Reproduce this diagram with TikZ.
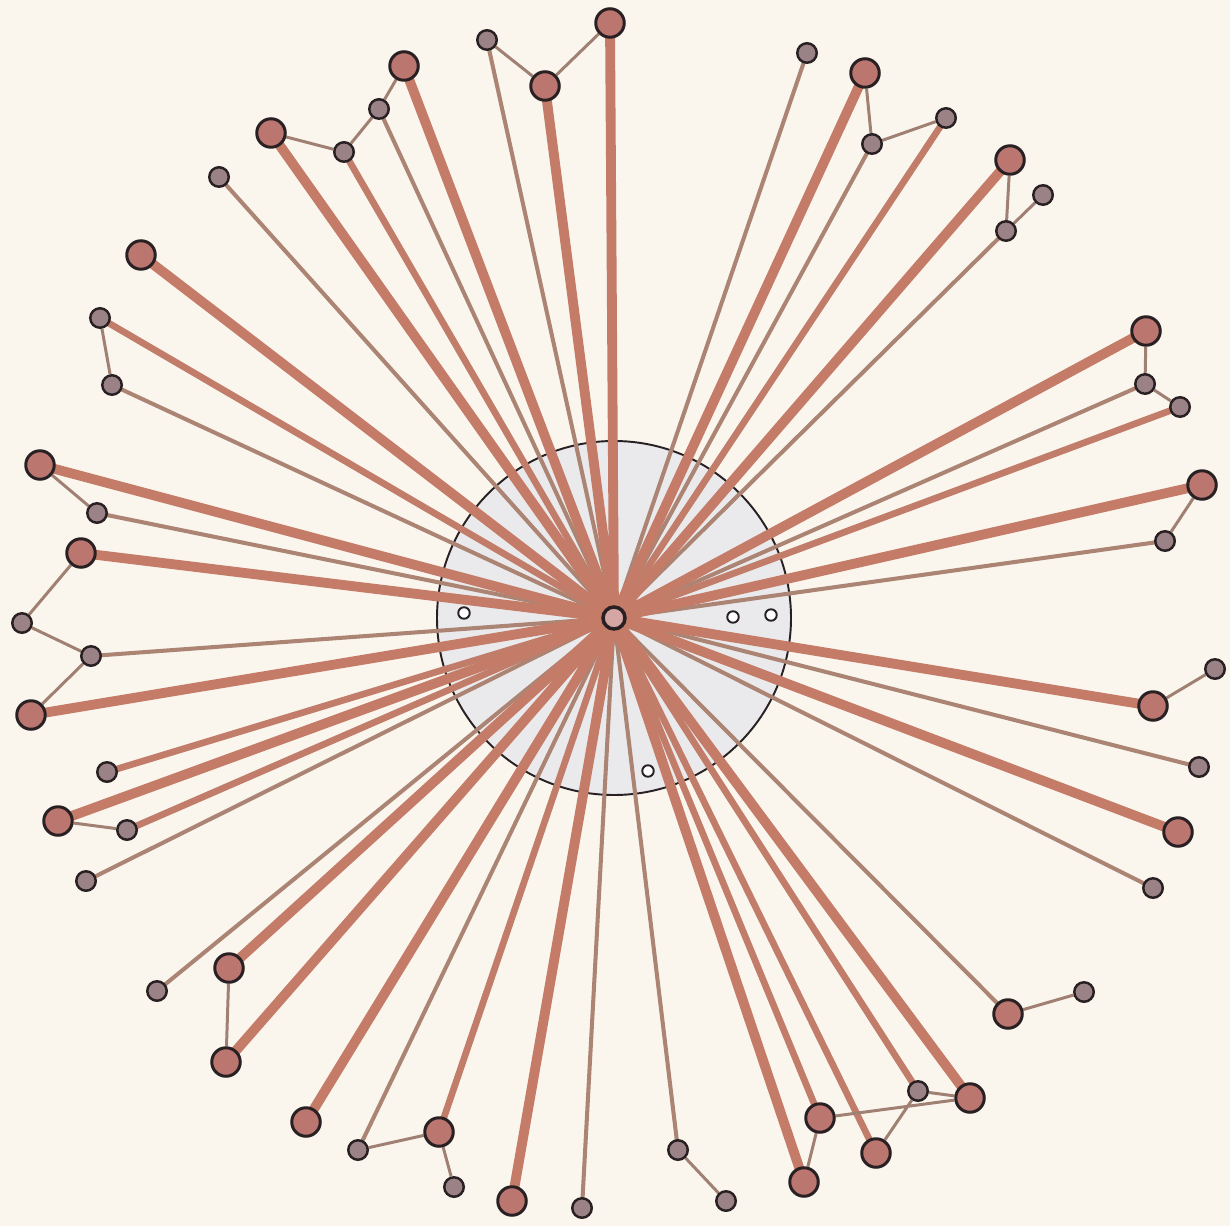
\documentclass[tikz,border=0pt]{standalone}
\usetikzlibrary{backgrounds}
\definecolor{paperBg}{RGB}{250,246,237}
\definecolor{rimDark}{RGB}{40,32,34}
\definecolor{bigFill}{RGB}{188,118,112}
\definecolor{smallFill}{RGB}{154,130,134}
\definecolor{hubFill}{RGB}{214,166,164}
\definecolor{spokeMain}{RGB}{196,124,104}
\definecolor{spokeThin}{RGB}{172,132,116}
\definecolor{linkCol}{RGB}{160,128,114}
\definecolor{diskFill}{RGB}{234,234,236}
\begin{document}
\begin{tikzpicture}[x=0.02cm,y=-0.02cm,
    bigLeaf/.style={circle,draw=rimDark,line width=1.7pt,fill=bigFill,inner sep=0pt,minimum size=0.57cm},
    smallLeaf/.style={circle,draw=rimDark,line width=1.4pt,fill=smallFill,inner sep=0pt,minimum size=0.39cm},
    openDot/.style={circle,draw=rimDark,line width=1.1pt,fill=white,inner sep=0pt,minimum size=0.23cm},
    hubNode/.style={circle,draw=rimDark,line width=2pt,fill=hubFill,inner sep=0pt,minimum size=0.44cm},
    spokeThick/.style={spokeMain,line width=5.6pt},
    spokeMid/.style={spokeMain!85!spokeThin,line width=3.8pt},
    spokeSlim/.style={spokeThin,line width=2.3pt},
    leafLink/.style={linkCol,line width=1.7pt},
]
\useasboundingbox (0,0) rectangle (1230,1226);
\node[hubNode] (hub) at (614,618) {};
% inner dots
\node[openDot] (d1) at (464,613) {};
\node[openDot] (d2) at (733,617) {};
\node[openDot] (d3) at (771,615) {};
\node[openDot] (d4) at (648,771) {};
% top-left
\node[bigLeaf] (t1) at (610,23) {};
\node[bigLeaf] (t2) at (545,86) {};
\node[smallLeaf] (t3) at (487,40) {};
\node[bigLeaf] (t4) at (404,66) {};
\node[smallLeaf] (t5) at (379,109) {};
\node[smallLeaf] (t6) at (344,152) {};
\node[bigLeaf] (t7) at (271,133) {};
\node[smallLeaf] (t8) at (219,177) {};
\node[bigLeaf] (t9) at (141,255) {};
\node[smallLeaf] (t10) at (100,318) {};
\node[smallLeaf] (t11) at (112,385) {};
\node[bigLeaf] (t12) at (40,465) {};
\node[smallLeaf] (t13) at (97,513) {};
\node[bigLeaf] (t14) at (81,553) {};
% bottom-left
\node[smallLeaf] (l1) at (22,623) {};
\node[smallLeaf] (l2) at (91,656) {};
\node[bigLeaf] (l3) at (31,715) {};
\node[smallLeaf] (l4) at (107,772) {};
\node[bigLeaf] (l5) at (58,821) {};
\node[smallLeaf] (l6) at (127,830) {};
\node[smallLeaf] (l7) at (86,881) {};
\node[smallLeaf] (l8) at (157,991) {};
\node[bigLeaf] (l9) at (229,968) {};
\node[bigLeaf] (l10) at (226,1062) {};
\node[bigLeaf] (l11) at (306,1122) {};
\node[smallLeaf] (l12) at (358,1150) {};
\node[bigLeaf] (l13) at (439,1132) {};
\node[smallLeaf] (l14) at (454,1187) {};
\node[bigLeaf] (l15) at (512,1201) {};
\node[smallLeaf] (l16) at (582,1208) {};
% bottom-right
\node[smallLeaf] (b1) at (678,1150) {};
\node[smallLeaf] (b2) at (726,1201) {};
\node[bigLeaf] (b3) at (804,1182) {};
\node[bigLeaf] (b4) at (820,1118) {};
\node[bigLeaf] (b5) at (876,1153) {};
\node[smallLeaf] (b6) at (918,1091) {};
\node[bigLeaf] (b7) at (970,1098) {};
\node[bigLeaf] (b8) at (1008,1014) {};
\node[smallLeaf] (b9) at (1084,992) {};
\node[smallLeaf] (b10) at (1153,888) {};
\node[bigLeaf] (b11) at (1178,832) {};
\node[smallLeaf] (b12) at (1199,767) {};
\node[bigLeaf] (b13) at (1153,706) {};
\node[smallLeaf] (b14) at (1215,669) {};
% top-right
\node[smallLeaf] (r1) at (1165,541) {};
\node[bigLeaf] (r2) at (1202,485) {};
\node[smallLeaf] (r3) at (1180,407) {};
\node[smallLeaf] (r4) at (1145,384) {};
\node[bigLeaf] (r5) at (1146,331) {};
\node[smallLeaf] (r6) at (1006,231) {};
\node[smallLeaf] (r7) at (1043,195) {};
\node[bigLeaf] (r8) at (1010,160) {};
\node[smallLeaf] (r9) at (946,118) {};
\node[smallLeaf] (r10) at (872,144) {};
\node[bigLeaf] (r11) at (865,73) {};
\node[smallLeaf] (r12) at (807,53) {};
\begin{scope}[on background layer]
\fill[paperBg] (0,0) rectangle (1230,1226);
\draw[rimDark,line width=1.1pt,fill=diskFill] (hub.center) circle[radius=177];
% spokes
\draw[spokeSlim] (hub.center) -- (t3.center) (hub.center) -- (t5.center) (hub.center) -- (t8.center)
    (hub.center) -- (t11.center) (hub.center) -- (t13.center) (hub.center) -- (l2.center)
    (hub.center) -- (l7.center) (hub.center) -- (l8.center) (hub.center) -- (l12.center)
    (hub.center) -- (l16.center) (hub.center) -- (b1.center) (hub.center) -- (b8.center)
    (hub.center) -- (b10.center) (hub.center) -- (b12.center) (hub.center) -- (r1.center)
    (hub.center) -- (r4.center) (hub.center) -- (r6.center) (hub.center) -- (r10.center)
    (hub.center) -- (r12.center);
\draw[spokeMid] (hub.center) -- (t6.center) (hub.center) -- (t10.center) (hub.center) -- (l4.center)
    (hub.center) -- (l6.center) (hub.center) -- (l13.center) (hub.center) -- (b4.center)
    (hub.center) -- (b5.center) (hub.center) -- (b6.center) (hub.center) -- (r3.center)
    (hub.center) -- (r9.center);
\draw[spokeThick] (hub.center) -- (t1.center) (hub.center) -- (t2.center) (hub.center) -- (t4.center)
    (hub.center) -- (t7.center) (hub.center) -- (t9.center) (hub.center) -- (t12.center)
    (hub.center) -- (t14.center) (hub.center) -- (l3.center) (hub.center) -- (l5.center)
    (hub.center) -- (l9.center) (hub.center) -- (l10.center) (hub.center) -- (l11.center)
    (hub.center) -- (l15.center) (hub.center) -- (b3.center) (hub.center) -- (b7.center)
    (hub.center) -- (b11.center) (hub.center) -- (b13.center) (hub.center) -- (r2.center)
    (hub.center) -- (r5.center) (hub.center) -- (r8.center) (hub.center) -- (r11.center);
% links between leaves
\draw[leafLink] (t3) -- (t2) -- (t1) (t4) -- (t5) -- (t6) -- (t7) (t10) -- (t11) (t12) -- (t13)
    (t14) -- (l1) -- (l2) -- (l3) (l5) -- (l6) (l9) -- (l10) (l12) -- (l13) -- (l14)
    (b1) -- (b2) (b3) -- (b4) -- (b7) (b5) -- (b6) -- (b7) (b8) -- (b9) (b13) -- (b14)
    (r1) -- (r2) (r3) -- (r4) -- (r5) (r7) -- (r6) -- (r8) (r9) -- (r10) -- (r11);
\end{scope}
\end{tikzpicture}
\end{document}
